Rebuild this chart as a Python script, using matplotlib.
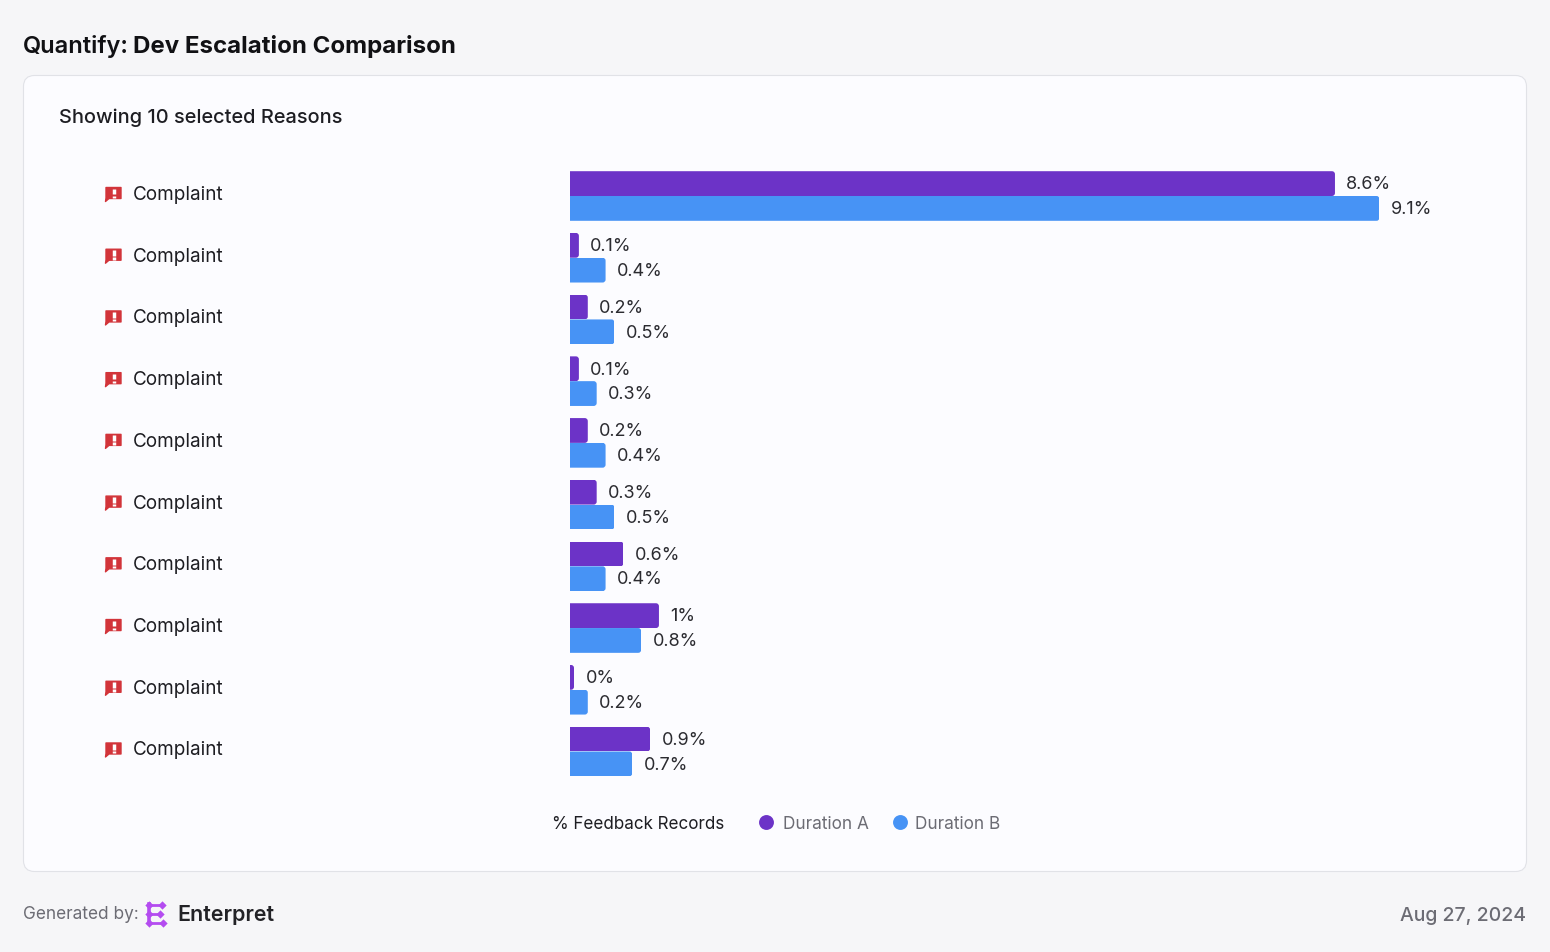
import matplotlib
matplotlib.use('Agg')
import matplotlib.pyplot as plt
from matplotlib.patches import FancyBboxPatch, Polygon

plt.rcParams['font.family'] = ['Inter', 'DejaVu Sans']

reasons = ['Complaint'] * 10
duration_a = [8.6, 0.1, 0.2, 0.1, 0.2, 0.3, 0.6, 1.0, 0.045, 0.9]
duration_b = [9.1, 0.4, 0.5, 0.3, 0.4, 0.5, 0.4, 0.8, 0.2, 0.7]

PURPLE = '#6c33c7'
BLUE = '#4793f5'
DARK = '#1d1d22'
GREY = '#6c6c74'
RED = '#d2343a'
LOGO = '#b44cf0'

W, H = 1550, 953
fig = plt.figure(figsize=(W / 100, H / 100), dpi=100, facecolor='#f6f6f8')

# page furniture is laid out in pixels
bg = fig.add_axes([0, 0, 1, 1])
bg.set_xlim(0, W)
bg.set_ylim(H - 1, -1)
bg.axis('off')

bg.add_patch(FancyBboxPatch((23.5, 75.5), 1503, 796, boxstyle='round,pad=0,rounding_size=11',
                            fc='#fcfcff', ec='#e1e2e7', lw=0.8))

bg.text(23, 45, 'Quantify:', fontsize=17.0, fontweight=600, color='#111114', va='center')
bg.text(133, 45.5, 'Dev Escalation Comparison', fontsize=17.3, fontweight='bold', color='#111114', va='center')
bg.text(59, 117, 'Showing 10 selected Reasons', fontsize=14.4, fontweight=500, color=DARK, va='center')

# bars
px_per_unit = 88.95
row_h = 61.72
left, right, top, bottom = 570, 1480, 166, 783
ax = fig.add_axes([left / W, 1 - bottom / H, (right - left) / W, (bottom - top) / H])
ax.patch.set_alpha(0)
ax.axis('off')
ax.set_xlim(0, (right - left) / px_per_unit)
ax.set_ylim((bottom - 197) / row_h, (top - 197) / row_h)

bar_h = 24.8 / row_h
radius = 3 / px_per_unit
aspect = (1 / row_h) / (1 / px_per_unit)


def draw_series(values, offset, color):
    ys = [i + offset for i in range(len(values))]
    bars = ax.barh(ys, values, height=bar_h, color=color, linewidth=0)
    for b, v, y in zip(bars, values, ys):
        clip = FancyBboxPatch((-1, y - bar_h / 2), v + 1, bar_h,
                              boxstyle=f'round,pad=0,rounding_size={radius}',
                              mutation_aspect=aspect, transform=ax.transData)
        b.set_clip_path(clip)
        ax.annotate(f'{round(v, 1):g}%', (v, y), xytext=(8.2, -0.2), textcoords='offset points',
                    fontsize=13, color='#2b2b30', va='center', ha='left')


draw_series(duration_a, -bar_h / 2, PURPLE)
draw_series(duration_b, bar_h / 2, BLUE)

# row labels with the alert icon
for i, name in enumerate(reasons):
    y = 196 + i * row_h - 3
    bg.text(133, y + 1, name, fontsize=13.6, color=DARK, va='center')
    bg.add_patch(Polygon([(106, y - 5.5), (121, y - 5.5), (121, y + 5.5), (109, y + 5.5),
                          (105.5, y + 8.5), (106, y + 5)], closed=True, fc=RED, ec=RED, lw=1, joinstyle='round'))
    bg.plot([113.5, 113.5], [y - 4.5, y + 1.3], color='white', lw=2.5, solid_capstyle='butt')
    bg.plot([113.5, 113.5], [y + 2.6, y + 4.8], color='white', lw=2.5, solid_capstyle='butt')

# legend
bg.text(551.5, 824, '% Feedback Records', fontsize=12.25, color=DARK, va='center')
bg.scatter([766], [821.5], s=115, color=PURPLE, linewidths=0)
bg.text(783, 824, 'Duration A', fontsize=12.4, color=GREY, va='center')
bg.scatter([899.5], [821.5], s=115, color=BLUE, linewidths=0)
bg.text(915, 824, 'Duration B', fontsize=12.4, color=GREY, va='center')

# footer
bg.text(23, 914, 'Generated by:', fontsize=12.4, color=GREY, va='center')
bg.plot([148.5, 148.5], [904, 923], color=LOGO, lw=2.6)
for y, x_end in [(904.5, 162), (913.5, 160), (923, 163)]:
    bg.plot([148, x_end], [y, y], color=LOGO, lw=2)
    bg.scatter([x_end], [y], marker='D', s=18, color=LOGO, linewidths=0)
    bg.scatter([148.5], [y], marker='D', s=18, color=LOGO, linewidths=0)
bg.text(177.5, 914, 'Enterpret', fontsize=15.4, fontweight=600, color='#222226', va='center')
bg.text(1526.5, 915, 'Aug 27, 2024', fontsize=14.0, fontweight=500, color=GREY, va='center', ha='right')

fig.savefig('out.png', dpi=100, facecolor=fig.get_facecolor())
